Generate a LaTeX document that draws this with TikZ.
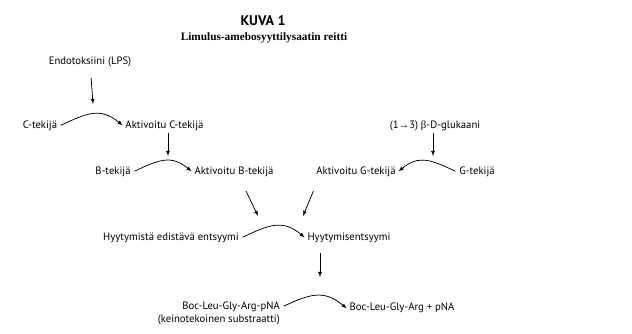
\documentclass[tikz,border=0pt]{standalone}
\usepackage{fontspec}
\setmainfont{PT Sans}
\newfontfamily\titlefont{Liberation Serif}
\newfontfamily\symbfont{Liberation Serif}
\usetikzlibrary{arrows, positioning, calc}

\begin{document}
\begin{tikzpicture}[x=1pt, y=1pt, >=latex]
        \tikzstyle{lbl} = [inner sep=2pt, font=\fontsize{10.7}{12.5}\selectfont]
        \tikzstyle{arrow} = [->, >=latex, line width=0.75pt]
        \tikzstyle{react} = [->, >=latex, line width=0.75pt, out=25, in=140, looseness=1.2, shorten <=2pt, shorten >=1pt]
        \tikzstyle{reactback} = [react, out=155, in=40]

        \useasboundingbox (0,0) rectangle (632,-333);

        % Title
        \node (kuva) [font=\fontsize{14}{16}\selectfont\bfseries] at (263,-21) {KUVA 1};
        \node (title) [font=\titlefont\fontsize{11.3}{13}\selectfont\bfseries] at (264,-37.5) {Limulus-amebosyyttilysaatin reitti};

        % Endotoxin branch
        \node (endo) [lbl] at (90,-62) {Endotoksiini (LPS)};
        \node (ct) [lbl] at (40,-126) {C-tekijä};
        \node (act) [lbl] at (164.5,-126) {Aktivoitu C-tekijä};
        \node (bt) [lbl] at (113,-172) {B-tekijä};
        \node (abt) [lbl] at (234,-172) {Aktivoitu B-tekijä};

        % Glucan branch
        \node (glu) [lbl] at (435,-126) {(1{\symbfont →}3) {\symbfont β}-D-glukaani};
        \node (gt) [lbl] at (477,-172) {G-tekijä};
        \node (agt) [lbl] at (356,-172) {Aktivoitu G-tekijä};

        % Clotting
        \node (pce) [lbl] at (171,-238) {Hyytymistä edistävä entsyymi};
        \node (ce) [lbl] at (349,-238) {Hyytymisentsyymi};
        \node (sub) [lbl, align=right, anchor=north east] at (282,-300) {Boc-Leu-Gly-Arg-pNA\\(keinotekoinen substraatti)};
        \node (prod) [lbl] at (402,-308) {Boc-Leu-Gly-Arg + pNA};

        \coordinate (cin) at (93,-104);
        \coordinate (bin) at (168,-156);
        \coordinate (gin) at (433,-156);
        \coordinate (pin1) at (258,-216);
        \coordinate (pin2) at (303,-216);
        \coordinate (sin) at (320,-277);

        \draw [react] (ct.east) to (act.west);
        \draw [react] (bt.east) to (abt.west);
        \draw [reactback] (gt.west) to (agt.east);
        \draw [react] (pce.east) to (ce.west);
        \draw [react] ([yshift=-7pt]sub.north east) to ([yshift=-1pt]prod.west);

        \draw [arrow, shorten <=9pt] (endo) -- (cin);
        \draw [arrow] (act.south -| bin) -- (bin);
        \draw [arrow] (glu.south -| gin) -- (gin);
        \draw [arrow, shorten <=13pt] ($(abt.south)!0.15!(abt.south east)$) -- (pin1);
        \draw [arrow, shorten <=13pt] ($(agt.south west)!0.1!(agt.south)$) -- (pin2);
        \draw [arrow, shorten <=8pt] (ce.south -| sin) -- (sin);
\end{tikzpicture}
\end{document}
